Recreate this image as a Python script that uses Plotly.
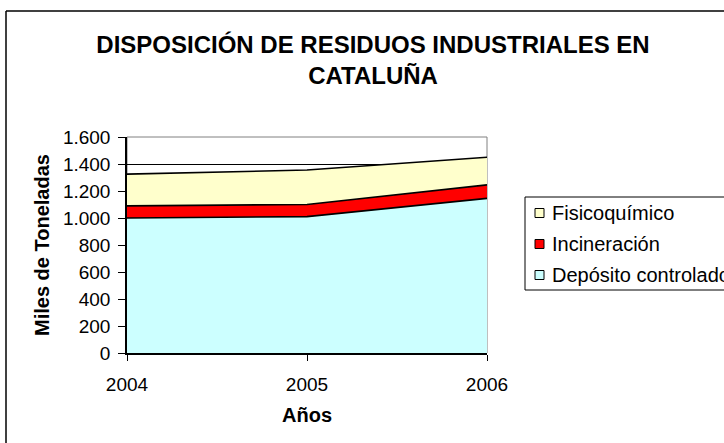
import plotly.graph_objects as go

years = [2004, 2005, 2006]
deposito = [1000, 1010, 1145]
incineracion = [90, 90, 100]
fisicoquimico = [235, 255, 205]

series_names = ["Depósito controlado", "Incineración", "Fisicoquímico"]
series_values = [deposito, incineracion, fisicoquimico]
series_colors = ["#CCFFFF", "#FF0000", "#FFFFCC"]

y_ticks = [0, 200, 400, 600, 800, 1000, 1200, 1400, 1600]

FONT = "Liberation Sans, Arial, sans-serif"
W, H = 724, 443
L, R, T, B = 127, 487, 137, 353  # plot area in px


def px_x(px):
    return (px - L) / (R - L)


def px_y(py):
    return (B - py) / (B - T)


def hline(x0, x1, y, width=1):
    return dict(type="line", xref="paper", yref="paper",
                x0=px_x(x0), x1=px_x(x1), y0=px_y(y), y1=px_y(y),
                line=dict(color="black", width=width), layer="above")


def vline(x, y0, y1, width=1):
    return dict(type="line", xref="paper", yref="paper",
                x0=px_x(x), x1=px_x(x), y0=px_y(y0), y1=px_y(y1),
                line=dict(color="black", width=width), layer="above")


fig = go.Figure()

for name, vals, col in zip(series_names, series_values, series_colors):
    fig.add_trace(go.Scatter(
        x=years, y=vals, name=name, mode="lines", stackgroup="one",
        fillcolor=col, line=dict(color="black", width=1.6),
        showlegend=False, hoverinfo="skip",
    ))

# hand-drawn legend (box, keys, labels), top to bottom as in the reference
legend_rows = [213, 244, 275]
shapes = [
    # plot area frame (grey)
    dict(type="rect", xref="paper", yref="paper", x0=0, x1=1, y0=0, y1=1,
         line=dict(color="#808080", width=1), layer="below"),
    # outer chart border (runs off the right and bottom edges)
    hline(6, 740, 11, 1.5),
    vline(6, 11, 460, 1.5),
    # legend box (its right side is off-canvas)
    hline(525, 740, 197),
    hline(525, 740, 290),
    vline(525, 197, 290),
]
annotations = [
    dict(text="<b>Miles de Toneladas</b>", textangle=-90,
         x=px_x(42), y=0.5, xref="paper", yref="paper",
         xanchor="center", yanchor="middle", showarrow=False,
         font=dict(family=FONT, size=20, color="black")),
    dict(text="<b>Años</b>",
         x=0.5, y=px_y(415), xref="paper", yref="paper",
         xanchor="center", yanchor="middle", showarrow=False,
         font=dict(family=FONT, size=20, color="black")),
]
for row, name, col in zip(legend_rows, series_names[::-1], series_colors[::-1]):
    shapes.append(dict(type="rect", xref="paper", yref="paper",
                       x0=px_x(535), x1=px_x(544), y0=px_y(row + 4.5), y1=px_y(row - 4.5),
                       line=dict(color="black", width=1), fillcolor=col, layer="above"))
    annotations.append(dict(text=name, x=px_x(550), y=px_y(row), xref="paper", yref="paper",
                            xanchor="left", yanchor="middle", showarrow=False,
                            font=dict(family=FONT, size=20, color="black")))

fig.update_layout(
    width=W, height=H,
    margin=dict(l=L, r=W - R, t=T, b=H - B, autoexpand=False),
    paper_bgcolor="white", plot_bgcolor="white",
    separators=",.",
    font=dict(family=FONT, size=19, color="black"),
    title=dict(
        text="<b>DISPOSICIÓN DE RESIDUOS INDUSTRIALES EN<br>CATALUÑA</b>",
        font=dict(family=FONT, size=24, color="black"),
        x=373 / W, xref="container", xanchor="center",
        y=1 - 53 / H, yref="container", yanchor="middle",
    ),
    xaxis=dict(
        range=[2004, 2006], tickvals=years, ticktext=[str(y) for y in years],
        showgrid=False, zeroline=False,
        showline=True, linecolor="black", linewidth=1.5,
        ticks="outside", ticklen=6, tickcolor="black", tickwidth=1,
        tickfont=dict(family=FONT, size=19, color="black"),
        ticklabelstandoff=7,
    ),
    yaxis=dict(
        range=[0, 1600], tickvals=y_ticks, tickformat=",d",
        showgrid=True, gridcolor="black", gridwidth=1,
        zeroline=False,
        showline=True, linecolor="black", linewidth=1.5,
        ticks="outside", ticklen=7, tickcolor="black", tickwidth=1,
        tickfont=dict(family=FONT, size=19, color="black"),
        ticklabelstandoff=4,
    ),
    showlegend=False,
    shapes=shapes,
    annotations=annotations,
)

fig.write_html("out.html", config={"displayModeBar": False},
               post_script="document.body.style.margin='0';")
